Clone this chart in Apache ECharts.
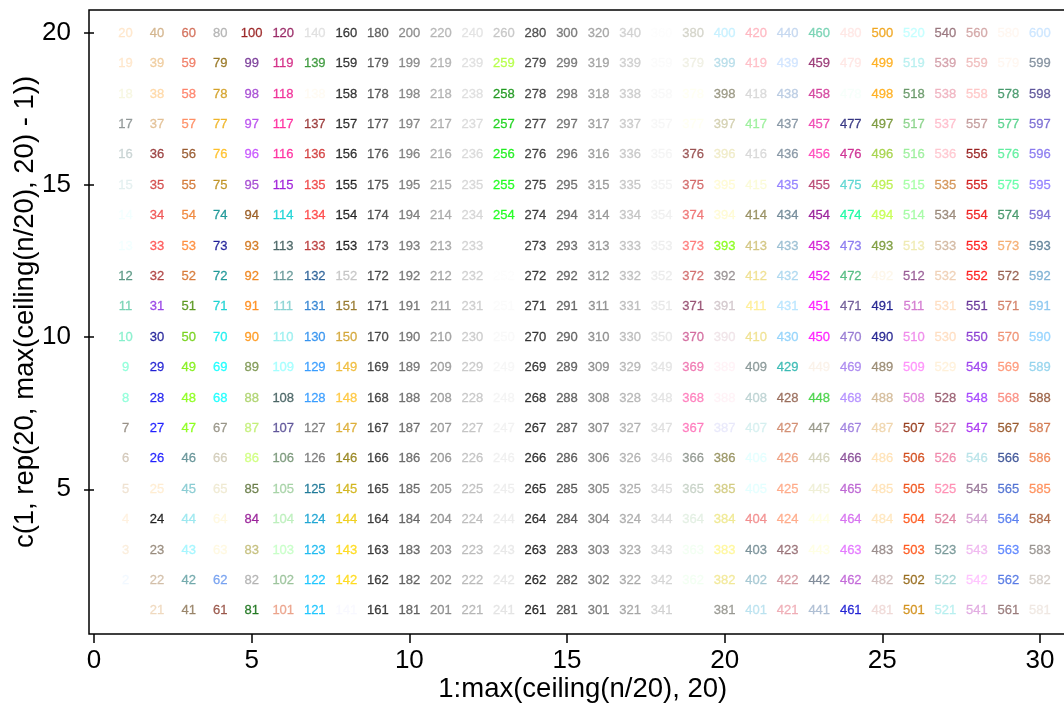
<!DOCTYPE html>
<html>
<head>
<meta charset="utf-8">
<script src="https://cdn.jsdelivr.net/npm/echarts@6/dist/echarts.min.js"></script>
<style>
  html, body { margin: 0; padding: 0; background: #fff; }
  #main { width: 1064px; height: 704px; }
</style>
</head>
<body>
<div id="main"></div>
<script>
// R colors() in order; "name*" = name, name1..name4 ; "name#" = name0..name100
var colorSpec = ['white','aliceblue','antiquewhite*','aquamarine*','azure*','beige','bisque*','black',
  'blanchedalmond','blue*','blueviolet','brown*','burlywood*','cadetblue*','chartreuse*','chocolate*',
  'coral*','cornflowerblue','cornsilk*','cyan*','darkblue','darkcyan','darkgoldenrod*','darkgray',
  'darkgreen','darkgrey','darkkhaki','darkmagenta','darkolivegreen*','darkorange*','darkorchid*',
  'darkred','darksalmon','darkseagreen*','darkslateblue','darkslategray*','darkslategrey',
  'darkturquoise','darkviolet','deeppink*','deepskyblue*','dimgray','dimgrey','dodgerblue*',
  'firebrick*','floralwhite','forestgreen','gainsboro','ghostwhite','gold*','goldenrod*','gray',
  'gray#','green*','greenyellow','grey','grey#','honeydew*','hotpink*','indianred*','ivory*','khaki*',
  'lavender','lavenderblush*','lawngreen','lemonchiffon*','lightblue*','lightcoral','lightcyan*',
  'lightgoldenrod*','lightgoldenrodyellow','lightgray','lightgreen','lightgrey','lightpink*',
  'lightsalmon*','lightseagreen','lightskyblue*','lightslateblue','lightslategray','lightslategrey',
  'lightsteelblue*','lightyellow*','limegreen','linen','magenta*','maroon*','mediumaquamarine',
  'mediumblue','mediumorchid*','mediumpurple*','mediumseagreen','mediumslateblue',
  'mediumspringgreen','mediumturquoise','mediumvioletred','midnightblue','mintcream','mistyrose*',
  'moccasin','navajowhite*','navy','navyblue','oldlace','olivedrab*','orange*','orangered*','orchid*',
  'palegoldenrod','palegreen*','paleturquoise*','palevioletred*','papayawhip','peachpuff*','peru',
  'pink*','plum*','powderblue','purple*','red*','rosybrown*','royalblue*','saddlebrown','salmon*',
  'sandybrown','seagreen*','seashell*','sienna*','skyblue*','slateblue*','slategray*'];

// X11 values of the "1" variants
var x11One = {
  antiquewhite:[255,239,219], aquamarine:[127,255,212], azure:[240,255,255], bisque:[255,228,196],
  blue:[0,0,255], brown:[255,64,64], burlywood:[255,211,155], cadetblue:[152,245,255],
  chartreuse:[127,255,0], chocolate:[255,127,36], coral:[255,114,86], cornsilk:[255,248,220],
  cyan:[0,255,255], darkgoldenrod:[255,185,15], darkolivegreen:[202,255,112], darkorange:[255,127,0],
  darkorchid:[191,62,255], darkseagreen:[193,255,193], darkslategray:[151,255,255],
  deeppink:[255,20,147], deepskyblue:[0,191,255], dodgerblue:[30,144,255], firebrick:[255,48,48],
  gold:[255,215,0], goldenrod:[255,193,37], green:[0,255,0], honeydew:[240,255,240],
  hotpink:[255,110,180], indianred:[255,106,106], ivory:[255,255,240], khaki:[255,246,143],
  lavenderblush:[255,240,245], lemonchiffon:[255,250,205], lightblue:[191,239,255],
  lightcyan:[224,255,255], lightgoldenrod:[255,236,139], lightpink:[255,174,185],
  lightsalmon:[255,160,122], lightskyblue:[176,226,255], lightsteelblue:[202,225,255],
  lightyellow:[255,255,224], magenta:[255,0,255], maroon:[255,52,179], mediumorchid:[224,102,255],
  mediumpurple:[171,130,255], mistyrose:[255,228,225], navajowhite:[255,222,173],
  olivedrab:[192,255,62], orange:[255,165,0], orangered:[255,69,0], orchid:[255,131,250],
  palegreen:[154,255,154], paleturquoise:[187,255,255], palevioletred:[255,130,171],
  peachpuff:[255,218,185], pink:[255,181,197], plum:[255,187,255], purple:[155,48,255],
  red:[255,0,0], rosybrown:[255,193,193], royalblue:[72,118,255], salmon:[255,140,105],
  seagreen:[84,255,159], seashell:[255,245,238], sienna:[255,130,71], skyblue:[135,206,255],
  slateblue:[131,111,255], slategray:[198,226,255]
};
// base names where R (X11) differs from CSS
var x11Base = { gray:'#BEBEBE', grey:'#BEBEBE', green:'#00FF00', maroon:'#B03060', purple:'#A020F0',
  lightgoldenrod:'#EEDD82', navyblue:'#000080', lightslateblue:'#8470FF' };

var nShown = 600;
var rowsPerCol = 20;
var xTicks = [0, 5, 10, 15, 20, 25, 30];
var yTicks = [5, 10, 15, 20];

var colorNames = [];
colorSpec.forEach(function (s) {
  if (s.slice(-1) === '*') {
    var b = s.slice(0, -1);
    colorNames.push(b, b + '1', b + '2', b + '3', b + '4');
  } else if (s.slice(-1) === '#') {
    var g = s.slice(0, -1);
    for (var k = 0; k <= 100; k++) colorNames.push(g + k);
  } else {
    colorNames.push(s);
  }
});

function toHex(name) {
  if (x11Base[name]) return x11Base[name];
  var m = name.match(/^(gray|grey)(\d+)$/);
  if (m) {
    var v = Math.round(+m[2] * 2.55);
    return 'rgb(' + v + ',' + v + ',' + v + ')';
  }
  m = name.match(/^([a-z]+)([1-4])$/);
  if (m && x11One[m[1]]) {
    var f = [1, 238 / 255, 205 / 255, 139 / 255][+m[2] - 1];
    var c = x11One[m[1]].map(function (x) { return Math.round(x * f); });
    return 'rgb(' + c.join(',') + ')';
  }
  return name;
}

var points = [];
for (var i = 1; i <= nShown; i++) {
  var col = toHex(colorNames[i - 1]);
  points.push({
    value: [Math.ceil(i / rowsPerCol), (i - 1) % rowsPerCol + 1, i],
    label: { color: col, textBorderColor: col }
  });
}

var font = '"Liberation Sans", Arial, sans-serif';
var chart = echarts.init(document.getElementById('main'));
chart.setOption({
  animation: false,
  grid: {
    left: 89, top: 10, bottom: 70, right: -12.5,
    outerBoundsMode: 'none',
    show: true, borderColor: '#000', borderWidth: 1.5, backgroundColor: 'transparent'
  },
  xAxis: {
    type: 'value', min: -0.16, max: 31.16,
    name: '1:max(ceiling(n/20), 20)', nameLocation: 'middle', nameGap: 41, nameMoveOverlap: false,
    nameTextStyle: { fontFamily: font, fontSize: 27.5, color: '#000' },
    axisLine: { show: false },
    axisTick: { show: true, length: 9, customValues: xTicks, lineStyle: { color: '#000', width: 1.5 } },
    axisLabel: { customValues: xTicks, fontFamily: font, fontSize: 26, color: '#000', margin: 14 },
    splitLine: { show: false }
  },
  yAxis: {
    type: 'value', min: 0.24, max: 20.76,
    name: 'c(1, rep(20, max(ceiling(n/20), 20) - 1))', nameLocation: 'middle', nameGap: 50,
    nameMoveOverlap: false,
    nameTextStyle: { fontFamily: font, fontSize: 27.5, color: '#000', padding: [0, 0, 0, 20] },
    axisLine: { show: false },
    axisTick: { show: true, length: 10, customValues: yTicks, lineStyle: { color: '#000', width: 1.5 } },
    axisLabel: { customValues: yTicks, fontFamily: font, fontSize: 26, color: '#000', margin: 18 },
    splitLine: { show: false }
  },
  series: [{
    type: 'scatter',
    symbolSize: 1,
    itemStyle: { color: 'rgba(0,0,0,0)' },
    label: {
      show: true, position: 'inside', fontFamily: font, fontSize: 13, textBorderWidth: 0.3,
      formatter: function (p) { return p.value[2]; }
    },
    emphasis: { disabled: true },
    data: points
  }]
});
</script>
</body>
</html>
